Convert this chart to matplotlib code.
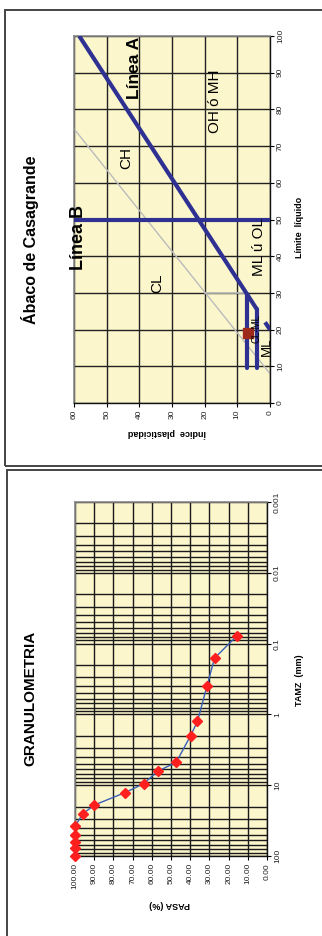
import numpy as np
import matplotlib
matplotlib.use('Agg')
import matplotlib.pyplot as plt
from matplotlib.patches import Rectangle
from matplotlib.ticker import LogLocator, FixedLocator, FuncFormatter, NullFormatter

plt.rcParams['font.family'] = ['Liberation Sans', 'DejaVu Sans']

# granulometria: abertura del tamiz (mm) y porcentaje que pasa
tamiz_mm = [100.0, 76.2, 63.5, 50.8, 38.1, 25.4, 19.05, 12.7, 9.525, 6.35,
            4.75, 2.00, 1.25, 0.40, 0.16, 0.078]
pasa = [100.0, 100.0, 100.0, 100.0, 100.0, 96.0, 89.9, 73.9, 64.3, 56.9,
        47.3, 39.8, 36.2, 31.3, 27.3, 15.7]
tamiz_ticks = [100, 10, 1, 0.1, 0.01, 0.001]
tamiz_labels = ['100', '10', '1', '0.1', '0.01', '0.001']
pasa_ticks = [100, 90, 80, 70, 60, 50, 40, 30, 20, 10, 0]

# abaco de casagrande
linea_a_ll = [25.5, 100.0]
linea_a_ip = [4.0, 58.4]
linea_a_cola_ll = [20.0, 22.0]
linea_a_cola_ip = [0.0, 1.5]
linea_u_ll = [8.0, 74.7]
linea_u_ip = [0.0, 60.0]
linea_b_ll = [50.0, 50.0]
linea_b_ip = [0.0, 60.0]
ip7_ll = [9.5, 29.6]
ip7_ip = [7.0, 7.0]
ip4_ll = [9.5, 25.5]
ip4_ip = [4.0, 4.0]
ll30_ll = [30.0, 30.0]
ll30_ip = [7.3, 19.8]
muestra_ll = [19.2]
muestra_ip = [6.7]
zonas = [('CH', 44.1, 66.7), ('CL', 34.6, 32.7), ('OH ó MH', 16.8, 82.1),
         ('ML ú OL', 3.4, 42.6)]
ll_ticks = list(range(0, 101, 10))
ip_ticks = list(range(0, 61, 10))

fondo = '#FBF6CC'
azul = '#2E3192'
W, H = 322, 936

fig = plt.figure(figsize=(W / 100, H / 100), dpi=100)

# marcos de cada grafico
fig.patches.append(Rectangle((5 / W, 1 - 466 / H), 1.2, 456 / H, transform=fig.transFigure,
                             fill=False, ec='#444444', lw=1.4))
fig.patches.append(Rectangle((7 / W, -0.05), 1.2, 1 - 470 / H + 0.05, transform=fig.transFigure,
                             fill=False, ec='#444444', lw=1.4))


def estilo(ax):
    ax.set_facecolor(fondo)
    for s in ('left', 'top'):
        ax.spines[s].set_color('#888888')
        ax.spines[s].set_linewidth(1.2)
    for s in ('right', 'bottom'):
        ax.spines[s].set_color('#111111')
        ax.spines[s].set_linewidth(1.0)
    ax.yaxis.tick_right()
    ax.tick_params(axis='both', which='major', direction='out', length=3, width=0.8,
                   labelsize=6, labelcolor='#222222', pad=2)
    ax.tick_params(axis='both', which='minor', length=0)
    ax.tick_params(axis='x', labelrotation=90)
    ax.tick_params(axis='y', labelrotation=90)


# ---- Abaco de Casagrande ----
ax1 = fig.add_axes([74 / W, 1 - 403 / H, 196 / W, 367 / H])
estilo(ax1)
ax1.set_xlim(60, 0)
ax1.set_ylim(0, 100)
ax1.xaxis.set_major_locator(FixedLocator(ip_ticks))
ax1.yaxis.set_major_locator(FixedLocator(ll_ticks))
ax1.grid(True, color='#222222', lw=1.0)
ax1.set_axisbelow(True)
for lab in ax1.get_yticklabels():
    lab.set_va('center')

ax1.plot(linea_u_ip, linea_u_ll, color='#BBBBBB', lw=1.0, zorder=2)
ax1.plot(ll30_ip, ll30_ll, color='#BBBBBB', lw=1.2, zorder=2)
ax1.plot(linea_b_ip, linea_b_ll, color=azul, lw=3.0, solid_capstyle='butt', zorder=3)
ax1.plot(linea_a_ip, linea_a_ll, color=azul, lw=3.0, solid_capstyle='butt', zorder=3)
ax1.plot(linea_a_cola_ip, linea_a_cola_ll, color=azul, lw=3.0, solid_capstyle='butt', zorder=3)
ax1.plot(ip7_ip, ip7_ll, color=azul, lw=3.0, solid_capstyle='round', zorder=3)
ax1.plot(ip4_ip, ip4_ll, color=azul, lw=3.0, solid_capstyle='round', zorder=3)
ax1.plot(muestra_ip, muestra_ll, 's', color='#9E2A1C', ms=7, zorder=4)

for txt, ip, ll in zonas:
    ax1.text(ip, ll, txt, rotation=90, fontsize=11, ha='center', va='center', zorder=5)
ax1.text(4.0, 20.4, 'CL-ML', rotation=90, fontsize=7, ha='center', va='center', zorder=5)
ax1.text(0.9, 15.3, 'ML', rotation=90, fontsize=9.5, ha='center', va='center', zorder=5,
         clip_on=False)
ax1.text(58.6, 45.2, 'Línea B', rotation=90, fontsize=13, fontweight='bold',
         ha='center', va='center', zorder=5, clip_on=False)
ax1.text(41.6, 91.4, 'Línea A', rotation=90, fontsize=12.5, fontweight='bold',
         ha='center', va='center', zorder=5)

fig.text(30 / W, 1 - 240 / H, 'Ábaco de Casagrande', rotation=90, fontsize=11.5,
         fontweight='bold', ha='center', va='center')
fig.text(300 / W, 1 - 227 / H, 'Límite  líquido', rotation=90, fontsize=6.5,
         fontweight='bold', ha='center', va='center')
fig.text(167 / W, 1 - 433 / H, 'Índice  plasticidad', rotation=180, fontsize=6.5,
         fontweight='bold', ha='center', va='center')

# ---- Granulometria ----
ax2 = fig.add_axes([75 / W, 1 - 856 / H, 192 / W, 354 / H])
estilo(ax2)
ax2.set_yscale('log')
ax2.set_xlim(100, 0)
ax2.set_ylim(100, 0.001)
ax2.xaxis.set_major_locator(FixedLocator(pasa_ticks))
ax2.xaxis.set_major_formatter(FuncFormatter(lambda v, p: f'{v:.2f}'))
ax2.yaxis.set_major_locator(FixedLocator(tamiz_ticks))
ax2.yaxis.set_major_formatter(FuncFormatter(lambda v, p: tamiz_labels[tamiz_ticks.index(v)]
                                            if v in tamiz_ticks else ''))
ax2.yaxis.set_minor_locator(LogLocator(base=10, subs=np.arange(2, 10), numticks=20))
ax2.yaxis.set_minor_formatter(NullFormatter())
ax2.grid(True, which='both', color='#1A1A1A', lw=1.0)
ax2.set_axisbelow(True)
for lab in ax2.get_yticklabels():
    lab.set_va('center')

ax2.plot(pasa, tamiz_mm, color='#3A5FB5', lw=1.0, zorder=3)
ax2.plot(pasa, tamiz_mm, 'D', color='#FF1F1F', ms=5, zorder=4, clip_on=False)

fig.text(30 / W, 1 - 698 / H, 'GRANULOMETRIA', rotation=90, fontsize=11,
         fontweight='bold', ha='center', va='center')
fig.text(300 / W, 1 - 680 / H, 'TAMZ  (mm)', rotation=90, fontsize=6.5,
         fontweight='bold', ha='center', va='center')
fig.text(170 / W, 1 - 905 / H, 'PASA (%)', rotation=180, fontsize=6.5,
         fontweight='bold', ha='center', va='center')

fig.savefig('out.png', dpi=100, facecolor='white')
